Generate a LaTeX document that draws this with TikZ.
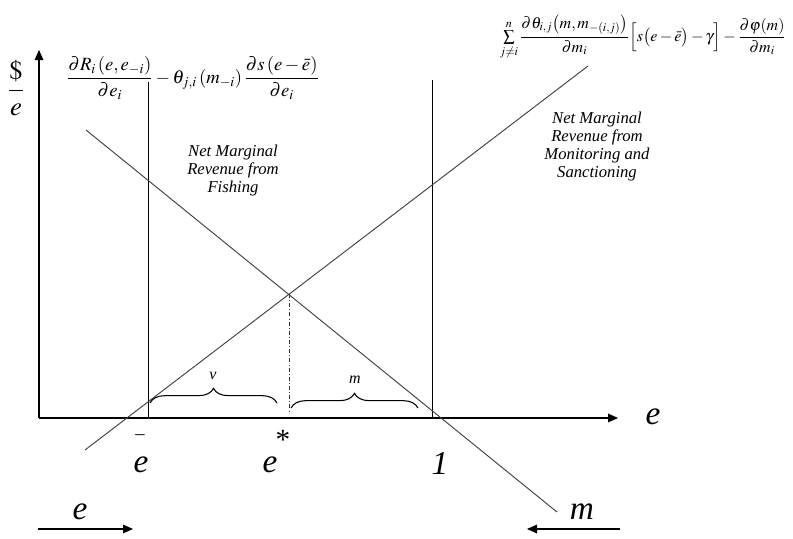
\documentclass[tikz,border=0pt]{standalone}
\usepackage{amsmath}
\usepackage{mathptmx}
\usepackage{fontspec}
\setmainfont{Liberation Serif}
\usetikzlibrary{arrows.meta,decorations.pathreplacing}
\tikzset{
  axis/.style={-{Triangle[length=7.5pt,width=6.5pt]},draw=black,line width=0.8pt},
  dirarrow/.style={-{Triangle[length=7.5pt,width=6.5pt]},draw=black,line width=0.8pt},
  mrline/.style={draw=black!75,line width=0.7pt},
  bound/.style={draw=black,line width=0.6pt},
  eqline/.style={draw=black!80,line width=0.6pt,dash pattern=on 3pt off 1.6pt on 0.7pt off 1.6pt},
  bracepath/.style={decorate,decoration={brace,amplitude=11pt},draw=black,line width=0.8pt},
  biglabel/.style={font=\fontsize{25}{27}\selectfont\itshape,inner sep=0pt},
  note/.style={font=\fontsize{12.5}{13.5}\selectfont\itshape,align=center},
  bracelabel/.style={font=\fontsize{12}{14}\selectfont\itshape,inner sep=0pt},
  formula/.style={font=\fontsize{14}{16}\selectfont,inner sep=0pt}
}

\begin{document}
\begin{tikzpicture}[x=0.75pt,y=-0.75pt]
\path[use as bounding box] (0,0) rectangle (793,539);
\coordinate (o) at (39,418); \coordinate (ytop) at (39,50); \coordinate (xend) at (618,418);
\coordinate (lt) at (148,82); \coordinate (lb) at (148,418); \coordinate (rt) at (432,80); \coordinate (rb) at (432,418);
\coordinate (fa) at (86,130); \coordinate (fb) at (557,512); \coordinate (ma) at (85,450); \coordinate (mb) at (588,66);
\coordinate (eq) at (289,294); \coordinate (eqb) at (289,413);
\coordinate (va) at (150,403); \coordinate (vb) at (277,403); \coordinate (wa) at (291,408); \coordinate (wb) at (418,408);
\coordinate (ea) at (38,529); \coordinate (eb) at (133,529); \coordinate (na) at (620,529); \coordinate (nb) at (527,529);
\draw[axis] (o)--(ytop); \draw[axis] (o)--(xend);
\draw[bound] (lt)--(lb); \draw[bound] (rt)--(rb);
\draw[mrline] (fa)--(fb); \draw[mrline] (ma)--(mb);
\draw[eqline] (eq)--(eqb);
\draw[bracepath] (va)--(vb); \draw[bracepath] (wa)--(wb);
\draw[dirarrow] (ea)--(eb); \draw[dirarrow] (na)--(nb);
\node[font=\fontsize{20}{22}\selectfont,inner sep=0pt] (yunit) at (16,88) {$\dfrac{\$}{e}$};
\node[biglabel] (xlab) at (653,417) {e};
\node[biglabel] (ebar) at (141,465) {e}; \node[font=\fontsize{14}{16}\selectfont,inner sep=0pt] (ebarsym) at (140,437) {–};
\node[biglabel] (estar) at (270,465) {e}; \node[font=\fontsize{22}{24}\selectfont,inner sep=0pt] (estarsym) at (283,440) {*};
\node[font=\fontsize{25}{27}\selectfont,inner sep=0pt] (one) at (440,463) {\textit{1}};
\node[biglabel] (edir) at (80,512) {e}; \node[biglabel] (mdir) at (582,512) {m};
\node[bracelabel] (vlab) at (213,376) {v}; \node[bracelabel] (mlab) at (355,380) {m};
\node[note] (fishing) at (233,170) {Net Marginal\\Revenue from\\Fishing};
\node[note] (monitor) at (597,146) {Net Marginal\\Revenue from\\Monitoring and\\Sanctioning};
\node[formula] (mrfish) at (193,78) {$\dfrac{\partial R_i\left(e,e_{-i}\right)}{\partial e_i}-\theta_{j,i}\left(m_{-i}\right)\dfrac{\partial s\left(e-\bar{e}\right)}{\partial e_i}$};
\node[formula,font=\fontsize{12}{14}\selectfont] (mrmon) at (643,37) {$\sum\limits_{j\neq i}^{n}\dfrac{\partial\theta_{i,j}\bigl(m,m_{-(i,j)}\bigr)}{\partial m_i}\Bigl[s\bigl(e-\bar{e}\bigr)-\gamma\Bigr]-\dfrac{\partial\varphi(m)}{\partial m_i}$};
\end{tikzpicture}
\end{document}
